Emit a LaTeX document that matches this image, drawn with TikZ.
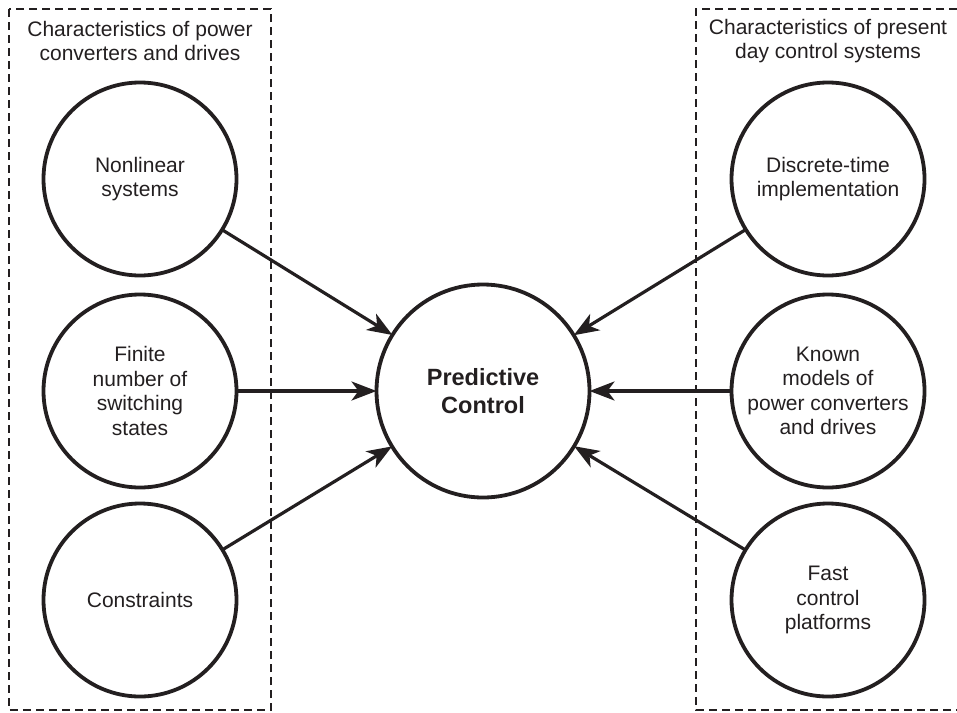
\documentclass[tikz,border=0pt]{standalone}
\usepackage{fontspec}
\setmainfont{Liberation Sans}
\usetikzlibrary{arrows.meta}
\definecolor{ink}{RGB}{35,31,32}
\begin{document}
\begin{tikzpicture}[x=1pt,y=-1pt,
  every node/.style={text=ink},
  txt/.style={font=\fontsize{21}{24.5}\selectfont, align=center},
  smallc/.style={circle, draw=ink, line width=3.8pt, minimum size=193pt, inner sep=0pt, outer sep=0pt, txt},
  bigc/.style={circle, draw=ink, line width=3.8pt, minimum size=213pt, inner sep=0pt, outer sep=0pt,
     font=\fontsize{23.5}{27.5}\selectfont\bfseries, align=center},
  grp/.style={draw=ink, line width=2.4pt, dash pattern=on 8pt off 5pt},
  arr/.style={draw=ink, line width=3.2pt, -{Stealth[length=25pt, width=19pt, inset=7pt]}}
]
\useasboundingbox (0,0) rectangle (957,712);
% group frames
\draw[grp] (9,9) rectangle (271,710);
\draw[grp] (957,9) -- (696,9) -- (696,710) -- (957,710);
% titles
\node[txt] (tl) at (140,41) {Characteristics of power\\converters and drives};
\node[txt] (tr) at (828,41) {Characteristics of present\\day control systems};
% left circles
\node[smallc] (n1) at (140,179) {Nonlinear\\systems};
\node[smallc] (n2) at (140,391) {Finite\\number of\\switching\\states};
\node[smallc] (n3) at (140,600) {Constraints};
% right circles
\node[smallc] (m1) at (828,179) {Discrete-time\\implementation};
\node[smallc] (m2) at (828,391) {Known\\models of\\power converters\\and drives};
\node[smallc] (m3) at (828,600) {Fast\\control\\platforms};
% center
\node[bigc] (pc) at (483,391) {Predictive\\Control};
% arrows
\draw[arr] (n1) -- (pc);
\draw[arr] (n2) -- (pc);
\draw[arr] (n3) -- (pc);
\draw[arr] (m1) -- (pc);
\draw[arr] (m2) -- (pc);
\draw[arr] (m3) -- (pc);
\end{tikzpicture}
\end{document}
